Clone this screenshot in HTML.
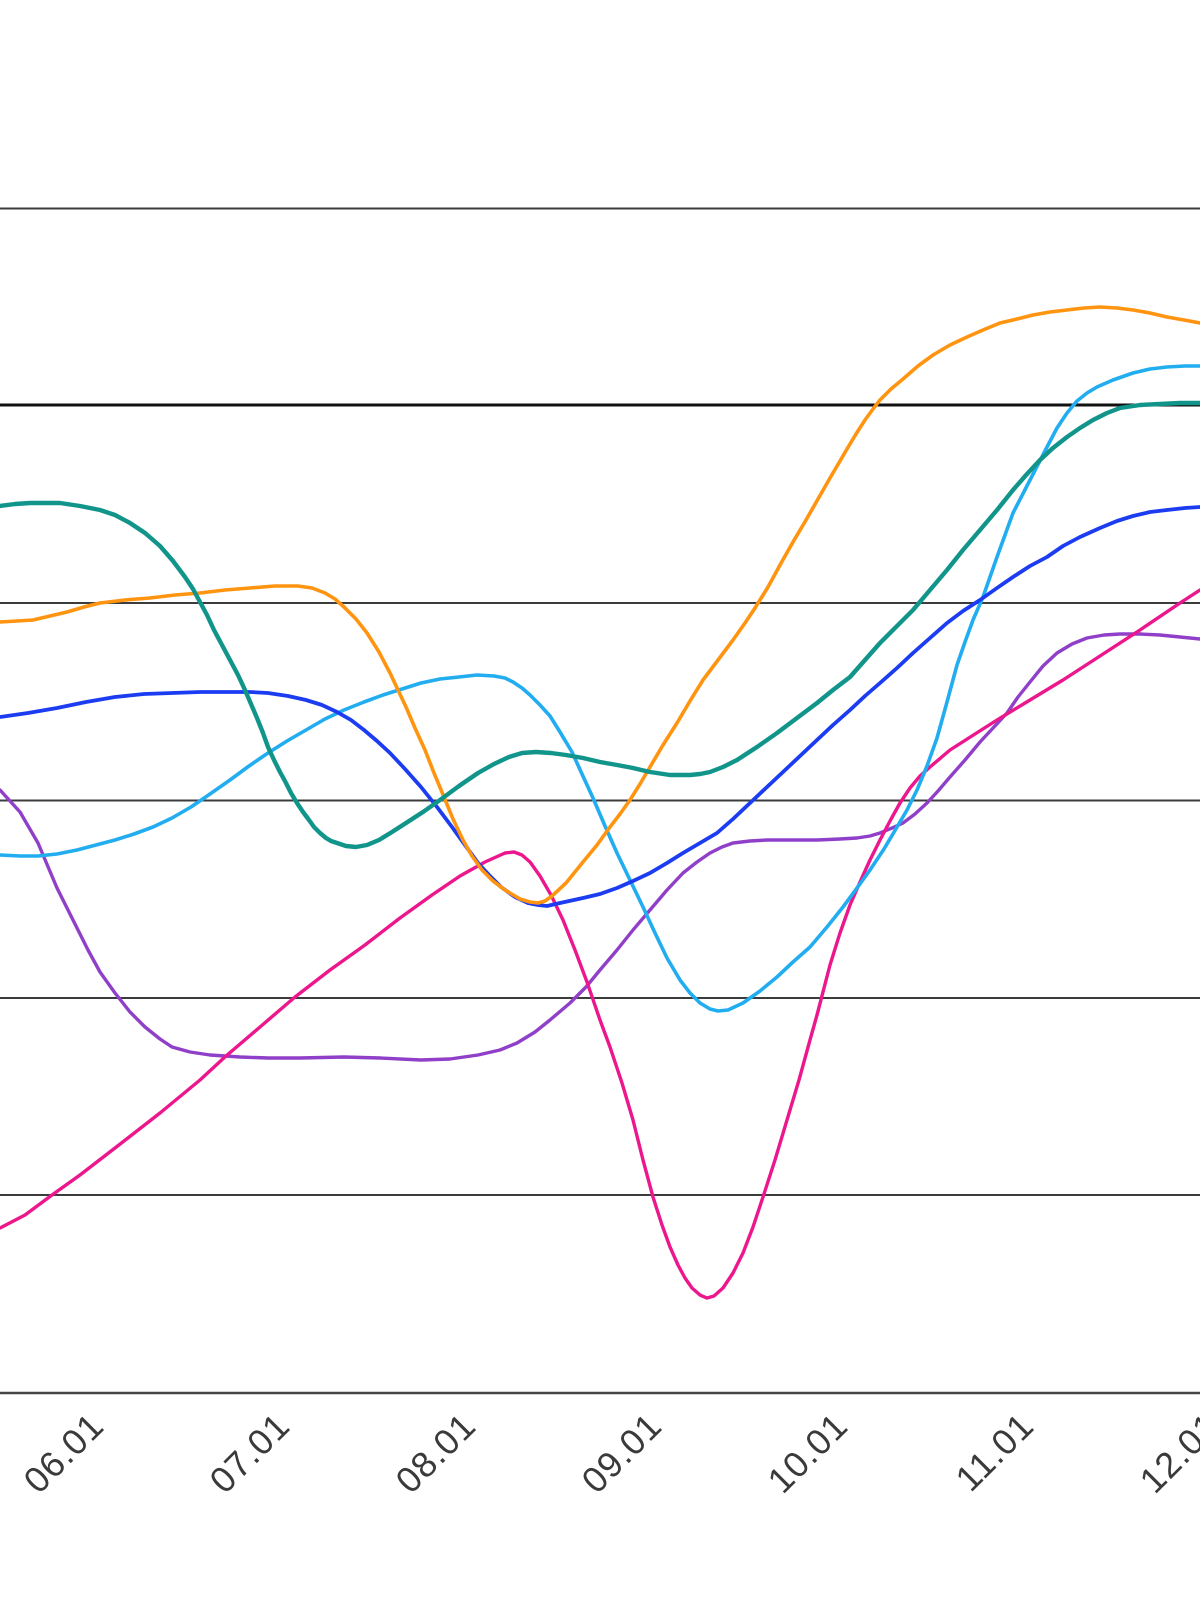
<!DOCTYPE html>
<html>
<head>
<meta charset="utf-8">
<style>
html,body{margin:0;padding:0;background:#ffffff;}
svg{display:block;}
</style>
</head>
<body>
<svg width="1200" height="1600" viewBox="0 0 1200 1600" xmlns="http://www.w3.org/2000/svg">
<rect width="1200" height="1600" fill="#ffffff"/>
<g stroke="#3c3c3c" stroke-width="2">
<line x1="0" y1="208.5" x2="1200" y2="208.5"/>
<line x1="0" y1="405" x2="1200" y2="405" stroke="#111" stroke-width="3"/>
<line x1="0" y1="603" x2="1200" y2="603"/>
<line x1="0" y1="800.5" x2="1200" y2="800.5"/>
<line x1="0" y1="998" x2="1200" y2="998"/>
<line x1="0" y1="1195" x2="1200" y2="1195"/>
<line x1="0" y1="1393" x2="1200" y2="1393" stroke="#444" stroke-width="2.5"/>
</g>
<g fill="none" stroke-linejoin="round" stroke-linecap="round">
<polyline stroke="#9040c8" stroke-width="3.4" points="0,790 20,812 38,843 57,888 73,920 88,950 100,972 115,993 130,1012 145,1027 160,1039 172,1047 190,1052 210,1055 240,1057 268,1058 300,1058 344,1057 380,1058 421,1060 450,1059 478,1055 500,1050 517,1043 535,1032 550,1020 570,1003 586,987 600,970 617,950 633,930 650,910 667,890 683,873 697,862 710,853 722,847 733,843 750,841 767,840 790,840 817,840 840,839 857,838 870,836 880,833 892,828 903,823 915,814 927,803 938,791 950,777 965,760 980,742 994,727 1007,713 1018,697 1030,682 1043,666 1057,653 1072,644 1087,638 1104,635 1120,634 1140,634 1160,635 1180,637 1200,639"/>
<polyline stroke="#ec168d" stroke-width="3.4" points="0,1228 25,1215 52,1195 80,1175 115,1148 160,1113 200,1080 226,1056 260,1027 295,997 330,970 365,945 400,918 432,895 460,876 485,862 505,853 514,852 522,855 530,862 540,876 551,895 563,920 575,950 587,982 600,1020 610,1047 622,1083 633,1120 643,1160 653,1197 662,1225 670,1247 678,1265 685,1278 692,1288 700,1295 707,1298 714,1296 723,1288 733,1273 743,1253 753,1227 763,1197 775,1160 787,1120 799,1080 810,1040 817,1015 830,965 840,933 850,905 860,882 870,860 880,840 890,821 900,803 910,788 920,776 930,767 950,750 975,734 997,720 1030,700 1063,680 1100,656 1140,630 1180,603 1200,590"/>
<polyline stroke="#21adf0" stroke-width="3.6" points="0,855 20,856 38,856 57,854 77,850 96,845 115,840 134,834 153,827 172,818 191,807 210,794 230,780 249,766 268,753 287,741 306,730 325,719 344,710 364,702 383,695 402,689 421,683 440,679 459,677 477,675 494,676 505,678 513,682 522,688 530,695 540,705 550,716 560,732 572,752 582,774 593,798 605,826 617,853 630,880 643,907 655,933 667,958 680,980 690,993 700,1003 710,1009 718,1011 728,1010 743,1003 760,991 777,977 793,962 810,947 827,927 843,907 857,888 870,870 884,849 897,827 907,810 917,790 927,766 937,738 947,702 957,665 965,642 973,620 983,597 997,557 1013,513 1030,480 1047,447 1057,428 1067,413 1077,401 1087,393 1097,387 1113,380 1133,373 1150,369 1167,367 1185,366 1200,366"/>
<polyline stroke="#1c3cf2" stroke-width="3.8" points="0,717 28,713 57,708 86,702 115,697 144,694 172,693 200,692 230,692 250,692 268,693 288,696 306,700 322,705 337,712 351,720 364,730 377,741 390,753 405,769 421,787 437,807 452,827 465,845 478,863 490,876 501,887 515,897 528,903 538,905 547,906 560,903 583,898 600,894 617,888 633,881 650,873 667,863 683,853 700,843 717,833 733,819 750,803 767,787 783,772 800,756 817,740 833,725 850,710 865,696 880,683 897,668 913,653 930,638 947,623 963,611 980,600 997,588 1013,577 1030,566 1047,557 1063,546 1080,537 1100,528 1117,521 1133,516 1150,512 1167,510 1185,508 1200,507"/>
<polyline stroke="#ff9410" stroke-width="3.6" points="0,622 17,621 33,620 50,616 67,612 84,607 100,603 125,600 150,598 175,595 200,593 225,590 250,588 275,586 298,586 312,588 325,593 335,599 344,607 356,619 367,633 379,652 390,673 398,690 406,707 415,728 425,750 434,773 444,797 453,819 463,840 472,856 482,870 493,881 505,890 520,899 530,902 538,903 545,901 552,896 566,883 583,862 597,845 610,827 620,814 630,800 640,784 650,767 663,745 677,723 690,701 703,680 718,660 733,640 745,623 755,608 768,587 780,565 793,542 806,520 818,499 830,478 840,461 847,449 856,434 865,420 873,409 880,400 891,389 903,379 918,366 933,355 950,345 967,337 983,330 1000,323 1017,319 1033,315 1050,312 1067,310 1084,308 1100,307 1117,308 1133,310 1150,313 1167,317 1184,320 1200,323"/>
<polyline stroke="#11958a" stroke-width="4.4" points="0,506 15,504 30,503 45,503 60,503 80,506 100,510 115,515 130,523 145,533 160,546 173,561 185,577 193,589 200,602 207,615 214,630 222,645 230,660 238,675 245,690 251,704 257,718 263,733 268,747 274,760 280,772 286,783 291,793 297,803 303,812 309,820 314,827 320,833 326,838 331,841 337,843 346,846 356,847 367,845 379,840 392,832 406,823 423,812 440,800 459,786 478,773 494,764 509,757 522,753 536,752 551,753 566,755 583,758 600,762 617,765 633,768 650,772 670,775 690,775 700,774 710,772 723,767 737,760 757,747 777,733 797,718 817,703 833,690 850,677 865,660 880,643 897,626 913,610 930,590 947,570 963,550 980,530 997,510 1013,490 1027,474 1040,460 1053,448 1067,437 1080,428 1093,420 1107,413 1120,408 1140,405 1160,404 1180,403 1200,403"/>
</g>
<g font-family="'Liberation Sans', Arial, sans-serif" font-size="36" letter-spacing="1" fill="#3a3a3a" text-anchor="end">
<text x="106" y="1428" transform="rotate(-45 106 1428)">06.01</text>
<text x="292" y="1428" transform="rotate(-45 292 1428)">07.01</text>
<text x="478" y="1428" transform="rotate(-45 478 1428)">08.01</text>
<text x="664" y="1428" transform="rotate(-45 664 1428)">09.01</text>
<text x="850" y="1428" transform="rotate(-45 850 1428)">10.01</text>
<text x="1036" y="1428" transform="rotate(-45 1036 1428)">11.01</text>
<text x="1222" y="1428" transform="rotate(-45 1222 1428)">12.01</text>
</g>
</svg>
</body>
</html>
